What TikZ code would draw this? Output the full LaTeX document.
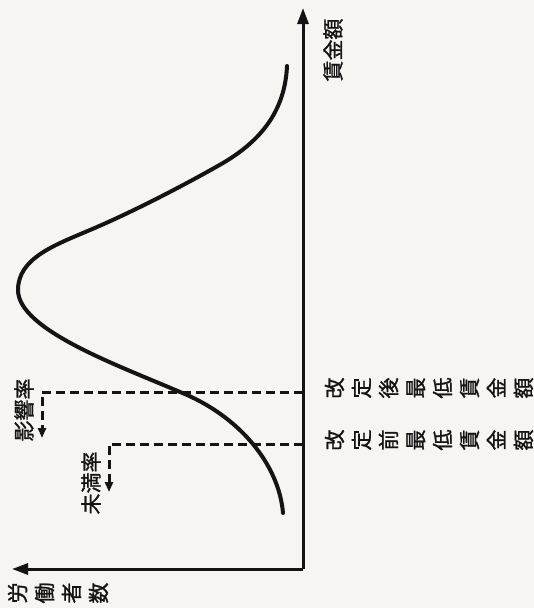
\documentclass[tikz,border=0pt]{standalone}
\usepackage{fontspec}
\newfontfamily\cjk[FakeBold=1.2]{Noto Sans CJK JP}
\usetikzlibrary{arrows.meta}
\definecolor{paper}{RGB}{246,245,241}
\definecolor{ink}{RGB}{20,20,20}
\tikzset{
  axisline/.style={line width=3pt, draw=ink, -{Triangle[length=16pt,width=11pt]}},
  curveline/.style={line width=4pt, draw=ink, line cap=round},
  dashline/.style={line width=3pt, draw=ink, dash pattern=on 9pt off 5pt, -{Triangle[length=10pt,width=8pt]}},
  hlabel/.style={rotate=90, font=\cjk\fontsize{21}{23}\selectfont, text=ink, inner sep=0pt},
  vlabel/.style={rotate=90, align=center, font=\cjk\fontsize{21}{27}\selectfont, text=ink, inner sep=0pt},
}
\begin{document}
\begin{tikzpicture}[x=1pt,y=-1pt]
\fill[paper] (0,0) rectangle (534,608);
\useasboundingbox (0,0) rectangle (534,608);
% axes
\coordinate (O) at (303,569);
\coordinate (wageend) at (303,8);
\coordinate (workend) at (12,569);
\draw[axisline] (O) -- (wageend);
\draw[axisline] (O) -- (workend);
% curve
\coordinate (c0) at (283,513);
\coordinate (c1) at (180,392);
\coordinate (peak) at (18,290);
\coordinate (c3) at (90,230);
\coordinate (c4) at (223,163);
\coordinate (c5) at (287,66);
\draw[curveline] (c0) .. controls (279,465) and (240,416) .. (c1)
  .. controls (120,366) and (18,330) .. (peak)
  .. controls (18,258) and (55,245) .. (c3)
  .. controls (135,211) and (190,182) .. (c4)
  .. controls (262,140) and (285,110) .. (c5);
% dashed lines
\coordinate (after) at (303,392);
\coordinate (aftercorner) at (42,392);
\coordinate (aftertip) at (42,438);
\coordinate (before) at (303,444);
\coordinate (beforecorner) at (109,444);
\coordinate (beforetip) at (109,492);
\draw[dashline] (after) -- (aftercorner) -- (aftertip);
\draw[dashline] (before) -- (beforecorner) -- (beforetip);
% labels
\node[hlabel] (wage) at (333,50) {賃金額};
\node[hlabel] (eikyo) at (24,410) {影響率};
\node[hlabel] (miman) at (91,483) {未満率};
\node[vlabel] (workers) at (58,593) {労\\働\\者\\数};
\node[vlabel] (minafter) at (429,388) {改\\定\\後\\最\\低\\賃\\金\\額};
\node[vlabel] (minbefore) at (429,440) {改\\定\\前\\最\\低\\賃\\金\\額};
\end{tikzpicture}
\end{document}
